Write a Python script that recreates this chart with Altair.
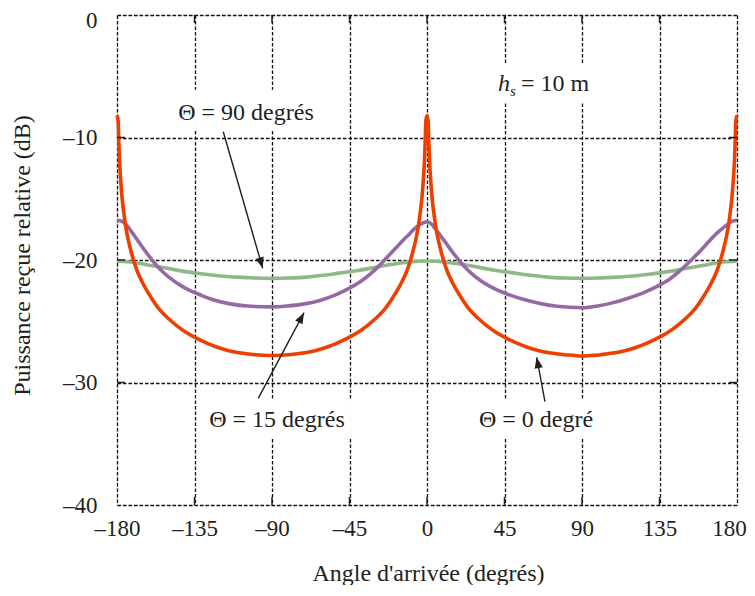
import math
import altair as alt
import pandas as pd

# ---------------- data ----------------
# Θ = 0 degré (orange)
ang_0 = [-180, -179.3, -179, -178.5, -178, -177, -176, -175, -174, -172, -170, -168, -165,
         -160, -155, -150, -145, -140, -135, -130, -125, -120, -115, -110, -105, -100, -95, -90,
         -85, -80, -75, -70, -65, -60, -55, -50, -45, -40, -35, -30, -25, -20, -15, -12, -10,
         -8, -6, -5, -4, -3, -2, -1.5, -1, -0.7, 0,
         0.7, 1, 1.5, 2, 3, 4, 5, 6, 8, 10, 12, 15, 20, 25, 30, 35, 40, 45, 50, 55, 60, 65,
         70, 75, 80, 85, 90,
         95, 100, 105, 110, 115, 120, 125, 130, 135, 140, 145, 150, 155, 160, 165, 168, 170,
         172, 174, 175, 176, 177, 178, 178.5, 179, 179.3, 180]
pow_0 = [-8.2, -8.7, -10.2, -12.0, -13.2, -15.0, -16.2, -17.2, -18.0, -19.2, -20.2, -21.0, -21.9,
         -23.1, -24.1, -24.8, -25.4, -25.9, -26.3, -26.65, -26.95, -27.2, -27.4, -27.55, -27.65, -27.73, -27.78, -27.8,
         -27.78, -27.73, -27.65, -27.55, -27.4, -27.2, -26.95, -26.65, -26.3, -25.9, -25.4, -24.8, -24.1, -23.1, -21.9, -21.0, -20.2,
         -19.2, -18.0, -17.2, -16.2, -15.0, -13.2, -12.0, -10.2, -8.7, -8.2,
         -8.7, -10.2, -12.0, -13.2, -15.0, -16.2, -17.2, -18.0, -19.2, -20.2, -21.0, -21.9, -23.1, -24.1, -24.8, -25.4, -25.9, -26.3, -26.65, -26.95, -27.2, -27.4,
         -27.55, -27.65, -27.73, -27.78, -27.85,
         -27.8, -27.75, -27.65, -27.55, -27.4, -27.2, -26.95, -26.65, -26.3, -25.9, -25.4, -24.8, -24.1, -23.1, -21.9, -21.0, -20.2,
         -19.2, -18.0, -17.2, -16.2, -15.0, -13.2, -12.0, -10.2, -8.7, -8.2]

# Θ = 15 degrés (violet)
ang_15 = [-180, -177, -174.5, -172, -169, -165.5, -161.6, -157, -152.4, -148, -143.3, -139,
          -135, -130, -124.2, -114.3, -104.4, -90, -81, -72, -62.2, -52.4, -45, -39, -33, -28,
          -23.3, -18, -13.6, -10, -7.7, -5, -2.5, 0, 2.5, 5.4, 8, 11.2, 14, 17, 21.5, 26.6,
          31, 36.3, 40, 45, 50, 55.8, 65.7, 75.6, 90, 99, 107.6, 117.2, 126.8, 135, 141,
          146.3, 152, 156.3, 162, 166.2, 170, 174, 177, 180]
pow_15 = [-16.75, -16.85, -17.15, -17.6, -18.2, -18.9, -19.65, -20.45, -21.1, -21.6, -22.05, -22.4,
          -22.65, -22.95, -23.25, -23.58, -23.76, -23.83, -23.75, -23.6, -23.3, -22.8, -22.3, -21.8, -21.15, -20.5,
          -19.8, -19.0, -18.35, -17.85, -17.5, -17.2, -16.98, -16.9, -17.05, -17.55, -18.05, -18.65, -19.2, -19.75, -20.5, -21.2,
          -21.68, -22.13, -22.39, -22.69, -22.95, -23.2, -23.55, -23.78, -23.9, -23.75, -23.5, -23.1, -22.6, -22.05, -21.55,
          -20.95, -20.2, -19.6, -18.75, -18.1, -17.6, -17.15, -16.85, -16.75]

# Θ = 90 degrés (vert)
ang_90 = [-180, -170, -160, -150, -140, -130, -120, -110, -100, -90, -80, -70, -60, -50, -40,
          -30, -20, -10, 0, 10, 20, 30, 40, 50, 60, 70, 80, 90, 100, 110, 120, 130, 140, 150,
          160, 170, 180]
pow_90 = [-20.1, -20.2, -20.45, -20.7, -20.95, -21.15, -21.3, -21.4, -21.47, -21.5, -21.47,
          -21.4, -21.25, -21.05, -20.85, -20.6, -20.35, -20.15, -20.08, -20.15, -20.35, -20.6,
          -20.85, -21.05, -21.25, -21.4, -21.47, -21.5, -21.47, -21.4, -21.3, -21.15, -20.95,
          -20.7, -20.45, -20.2, -20.1]

series_names = ["Θ = 90 degrés", "Θ = 15 degrés", "Θ = 0 degré"]
series_colors = ["#8fb889", "#9568a6", "#ee3f00"]

x_ticks = [-180, -135, -90, -45, 0, 45, 90, 135, 180]
y_ticks = [-40, -30, -20, -10, 0]

# annotation labels (text, x, y)
ann_text = ["Θ = 90 degrés", "Θ = 15 degrés", "Θ = 0 degré"]
ann_x = [-105.1, -87.1, 63.3]
ann_y = [-8.0, -33.1, -33.1]

# arrows (start -> tip)
arr_x1 = [-118.3, -98.0, 68.5]
arr_y1 = [-9.53, -31.29, -31.57]
arr_x2 = [-95.4, -71.4, 63.7]
arr_y2 = [-20.68, -24.3, -27.94]

# white boxes behind annotations (hide grid)
box_x1 = [-149.2, -128.9, 25.0, 39.5]
box_x2 = [-62.1, -43.6, 100.5, 97.6]
box_y1 = [-6.1, -31.4, -31.4, -3.92]
box_y2 = [-9.4, -34.5, -34.5, -7.18]

# ---------------- chart ----------------
W, H = 620, 490
FONT = "Liberation Serif"
INK = "#231f20"

xs = alt.Scale(domain=[-180, 180], nice=False, zero=False)
ys = alt.Scale(domain=[-40, 0], nice=False, zero=False)

LBL = "datum.value < 0 ? '\u2013' + abs(datum.value) : '' + datum.value"

AX = alt.Axis(values=x_ticks, grid=True, gridDash=[3.5, 2], gridColor="#111111", gridWidth=1.3,
              ticks=False, domain=False, labelExpr=LBL, labelFont=FONT, labelFontSize=23,
              labelColor=INK, labelPadding=12, labelFlush=False,
              labelOffset={"condition": {"test": "datum.value == 180", "value": -8}, "value": 0},
              title="Angle d'arrivée (degrés)", titleFont=FONT, titleFontSize=24,
              titleFontWeight="normal", titleColor=INK, titleX=311, titleY=68,
              titleBaseline="middle", titleAlign="center")
AY = alt.Axis(values=y_ticks, grid=True, gridDash=[3.5, 2], gridColor="#111111", gridWidth=1.3,
              ticks=False, domain=False, labelExpr=LBL, labelFont=FONT, labelFontSize=23,
              labelColor=INK, labelPadding=20, labelFlush=False,
              labelOffset={"condition": {"test": "datum.value == 0", "value": 5}, "value": 0},
              title="Puissance reçue relative (dB)", titleFont=FONT, titleFontSize=24,
              titleFontWeight="normal", titleColor=INK, titleX=-95, titleY=240,
              titleAngle=270, titleAlign="center", titleBaseline="middle")


def X(f):
    return alt.X(f, type="quantitative", scale=xs, axis=AX)


def Y(f):
    return alt.Y(f, type="quantitative", scale=ys, axis=AY)


boxes = pd.DataFrame({"x1": box_x1, "x2": box_x2, "y1": box_y1, "y2": box_y2})
box_layer = alt.Chart(boxes).mark_rect(color="white").encode(
    x=X("x1"), x2="x2", y=Y("y1"), y2="y2")

layers = [box_layer]
for name, col, a, p in zip(series_names, series_colors, [ang_90, ang_15, ang_0],
                           [pow_90, pow_15, pow_0]):
    df = pd.DataFrame({"angle": a, "power": p})
    layers.append(alt.Chart(df).mark_line(color=col, strokeWidth=3.6, interpolate="monotone",
                                          strokeJoin="round").encode(
        x=X("angle"), y=Y("power")))

# inward tick marks on all four sides
tick_rows = []
tlen_y = 8 * 40 / H
tlen_x = 8 * 360 / W
for t in x_ticks[1:-1]:
    tick_rows.append({"x1": t, "x2": t, "y1": -40, "y2": -40 + tlen_y})
    tick_rows.append({"x1": t, "x2": t, "y1": 0, "y2": -tlen_y})
for t in y_ticks[1:-1]:
    tick_rows.append({"x1": -180, "x2": -180 + tlen_x, "y1": t, "y2": t})
    tick_rows.append({"x1": 180, "x2": 180 - tlen_x, "y1": t, "y2": t})
ticks = alt.Chart(pd.DataFrame(tick_rows)).mark_rule(color=INK, strokeWidth=1.5).encode(
    x=X("x1"), x2="x2", y=Y("y1"), y2="y2")
layers.append(ticks)

# arrows
arr = pd.DataFrame({"x1": arr_x1, "y1": arr_y1, "x2": arr_x2, "y2": arr_y2})
arr["ang"] = [
    (math.degrees(math.atan2((b - a) * W / 360, (d - c) * H / 40)) + 360) % 360
    for a, b, c, d in zip(arr_x1, arr_x2, arr_y1, arr_y2)
]
layers.append(alt.Chart(arr).mark_rule(color=INK, strokeWidth=1.4).encode(
    x=X("x1"), x2="x2", y=Y("y1"), y2="y2"))
layers.append(alt.Chart(arr).mark_point(shape="M0,0 L-0.38,1 L0.38,1 Z", filled=True,
                                        color=INK, opacity=1, size=484).encode(
    x=X("x2"), y=Y("y2"), angle=alt.Angle("ang:Q", scale=None)))

# annotation texts
ann = pd.DataFrame({"t": ann_text, "x": ann_x, "y": ann_y})
layers.append(alt.Chart(ann).mark_text(font=FONT, fontSize=24, color=INK, align="center",
                                       baseline="middle").encode(
    x=X("x"), y=Y("y"), text="t:N"))

# h_s = 10 m
hs_parts = ["h", "s", "= 10 m"]
hs_x = [41.2, 48.2, 54.6]
hs_y = [-6.18, -6.65, -6.18]
hs_size = [24, 15, 24]
hs_style = ["italic", "italic", "normal"]
hs = pd.DataFrame({"t": hs_parts, "x": hs_x, "y": hs_y})
for i in range(3):
    layers.append(alt.Chart(hs.iloc[[i]]).mark_text(
        font=FONT, fontSize=hs_size[i], fontStyle=hs_style[i], color=INK, align="left",
        baseline="alphabetic").encode(x=X("x"), y=Y("y"), text="t:N"))

chart = alt.layer(*layers).properties(
    width=W, height=H,
    autosize=alt.AutoSizeParams(type="none"),
    padding={"left": 109, "top": 7, "right": 10, "bottom": 80},
).configure_view(stroke=INK, strokeWidth=1.6).configure(background="white")

chart.save("out.html", embed_options={"renderer": "svg", "actions": False})
